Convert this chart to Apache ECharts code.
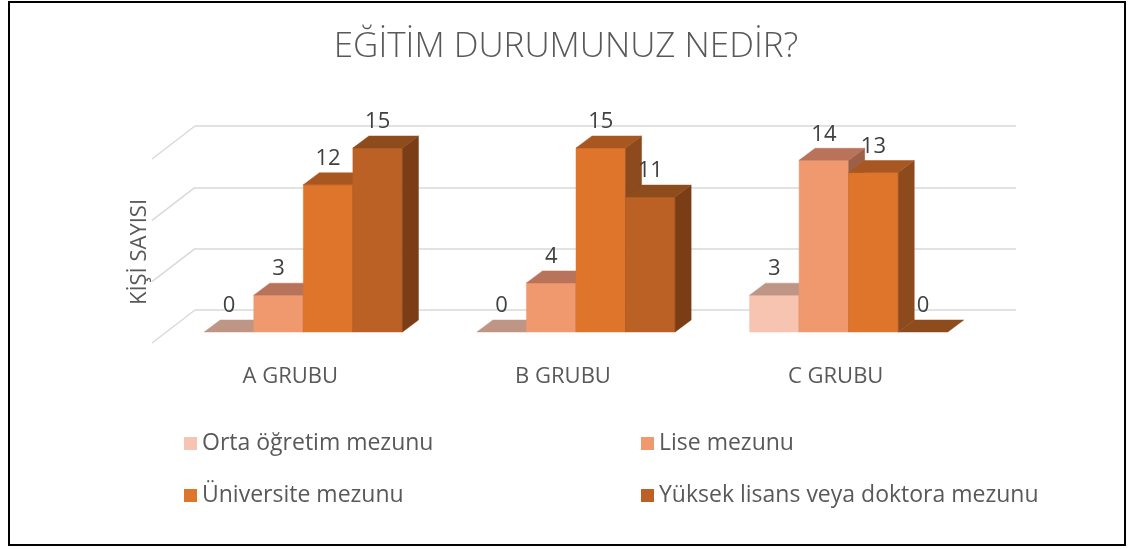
<!DOCTYPE html>
<html>
<head>
<meta charset="utf-8">
<script src="https://cdn.jsdelivr.net/npm/echarts@6/dist/echarts.min.js"></script>
<style>
  html, body { margin: 0; padding: 0; background: #fff; }
  #chart { width: 1132px; height: 549px; }
</style>
</head>
<body>
<div id="chart"></div>
<script>
// kategoriler ve seriler
var categories = ['A GRUBU', 'B GRUBU', 'C GRUBU'];
var seriesNames = ['Orta öğretim mezunu', 'Lise mezunu', 'Üniversite mezunu', 'Yüksek lisans veya doktora mezunu'];
var ortaData = [0, 0, 3];
var liseData = [3, 4, 14];
var universiteData = [12, 15, 13];
var yuksekData = [15, 11, 0];
var yTicks = [0, 5, 10, 15];

var allData = [ortaData, liseData, universiteData, yuksekData];

// renkler: ön yüz, üst yüz, yan yüz
var palette = [
  { front: '#F6C4B0', top: '#BF9585', side: '#A47a6c' },
  { front: '#F0996F', top: '#B8735A', side: '#9c6048' },
  { front: '#DF752B', top: '#A95721', side: '#8C4A1D' },
  { front: '#BB6125', top: '#8E4B1C', side: '#7A3D16' }
];

var FONT = 'Open Sans';
var GROUP_RATIO = 0.727;
var DX = 16, DY = 12;      // çubuk derinliği
var FX = 43, FY = 33;      // zemin derinliği

var chart = echarts.init(document.getElementById('chart'));

function barRender(si) {
  return function (params, api) {
    var cat = api.value(0), val = api.value(1);
    var base = api.coord([cat, 0]);
    var top = api.coord([cat, val]);
    var band = api.size([1, 0])[0];
    var barW = band * GROUP_RATIO / 4;
    var x0 = base[0] - band * GROUP_RATIO / 2 + si * barW;
    var x1 = x0 + barW;
    var yb = base[1], yt = top[1];
    var c = palette[si];
    var children = [];
    if (val > 0) {
      children.push({ type: 'rect', shape: { x: x0, y: yt, width: barW, height: yb - yt },
        style: { fill: c.front, stroke: c.front, lineWidth: 0.5 } });
      children.push({ type: 'polygon', shape: { points: [[x1, yt], [x1 + DX, yt - DY], [x1 + DX, yb - DY], [x1, yb]] },
        style: { fill: c.side, stroke: c.side, lineWidth: 0.5 } });
    }
    children.push({ type: 'polygon', shape: { points: [[x0, yt], [x0 + DX, yt - DY], [x1 + DX, yt - DY], [x1, yt]] },
      style: { fill: c.top, stroke: c.top, lineWidth: 0.5 } });
    children.push({ type: 'text', z2: 100,
      style: { text: String(val), x: (x0 + x1) / 2, y: yt - DY - 14, align: 'center', verticalAlign: 'middle',
        fontSize: 22, fontFamily: FONT, fill: '#404040' } });
    return { type: 'group', children: children };
  };
}

var series = [];
// arka duvarın sol kenarındaki eğik çizgiler
series.push({
  type: 'custom',
  xAxisIndex: 1,
  yAxisIndex: 1,
  silent: true,
  z: 1,
  data: yTicks.map(function (v) { return [0, v]; }),
  renderItem: function (params, api) {
    var p = api.coord([0, api.value(1)]);
    return { type: 'line', shape: { x1: p[0], y1: p[1], x2: p[0] - FX, y2: p[1] + FY },
      style: { stroke: '#D9D9D9', lineWidth: 1.5 } };
  }
});
for (var i = 0; i < 4; i++) {
  series.push({
    name: seriesNames[i],
    type: 'custom',
    xAxisIndex: 0,
    yAxisIndex: 0,
    z: 2,
    itemStyle: { color: palette[i].front },
    encode: { x: 0, y: 1 },
    data: allData[i].map(function (v, k) { return [k, v]; }),
    renderItem: barRender(i)
  });
}

var legendText = { fontSize: 23, fontFamily: FONT, color: '#595959' };

var option = {
  animation: false,
  title: {
    text: 'EĞİTİM DURUMUNUZ NEDİR?',
    left: 'center',
    top: 25,
    textStyle: { fontSize: 35, fontWeight: 300, fontFamily: FONT, color: '#595959' }
  },
  legend: [
    {
      data: [seriesNames[0], seriesNames[2]],
      orient: 'vertical',
      left: 184, top: 432, padding: 0,
      itemGap: 29, itemWidth: 13, itemHeight: 13, icon: 'rect',
      textStyle: legendText
    },
    {
      data: [seriesNames[1], seriesNames[3]],
      orient: 'vertical',
      left: 641, top: 432, padding: 0,
      itemGap: 29, itemWidth: 13, itemHeight: 13, icon: 'rect',
      textStyle: legendText
    }
  ],
  grid: [
    { left: 167, right: 1132 - 985, top: 148, bottom: 549 - 332 },
    { left: 195, right: 1132 - 1016, top: 126, bottom: 549 - 310 }
  ],
  xAxis: [
    {
      type: 'category', gridIndex: 0, data: categories,
      axisLine: { show: false }, axisTick: { show: false },
      axisLabel: { margin: 34, fontSize: 22, fontFamily: FONT, color: '#595959', padding: [0, 26, 0, 0] }
    },
    { type: 'value', gridIndex: 1, min: 0, max: 1, show: false }
  ],
  yAxis: [
    {
      type: 'value', gridIndex: 0, min: 0, max: 15, interval: 5,
      splitLine: { show: false }, axisLabel: { show: false },
      axisLine: { show: false }, axisTick: { show: false },
      name: 'KİŞİ SAYISI', nameLocation: 'middle', nameGap: 16, nameRotate: 90,
      nameTextStyle: { fontSize: 22, fontFamily: FONT, color: '#595959', padding: [0, 24, 0, 0] }
    },
    {
      type: 'value', gridIndex: 1, min: 0, max: 15, interval: 5,
      axisLabel: { show: false }, axisLine: { show: false }, axisTick: { show: false },
      splitLine: { show: true, lineStyle: { color: '#D9D9D9', width: 1.5 } }
    }
  ],
  graphic: [
    { type: 'rect', shape: { x: 9, y: 2, width: 1116, height: 543 },
      style: { fill: 'none', stroke: '#000', lineWidth: 2 }, z: 100, silent: true }
  ],
  series: series
};

chart.setOption(option);
</script>
</body>
</html>
